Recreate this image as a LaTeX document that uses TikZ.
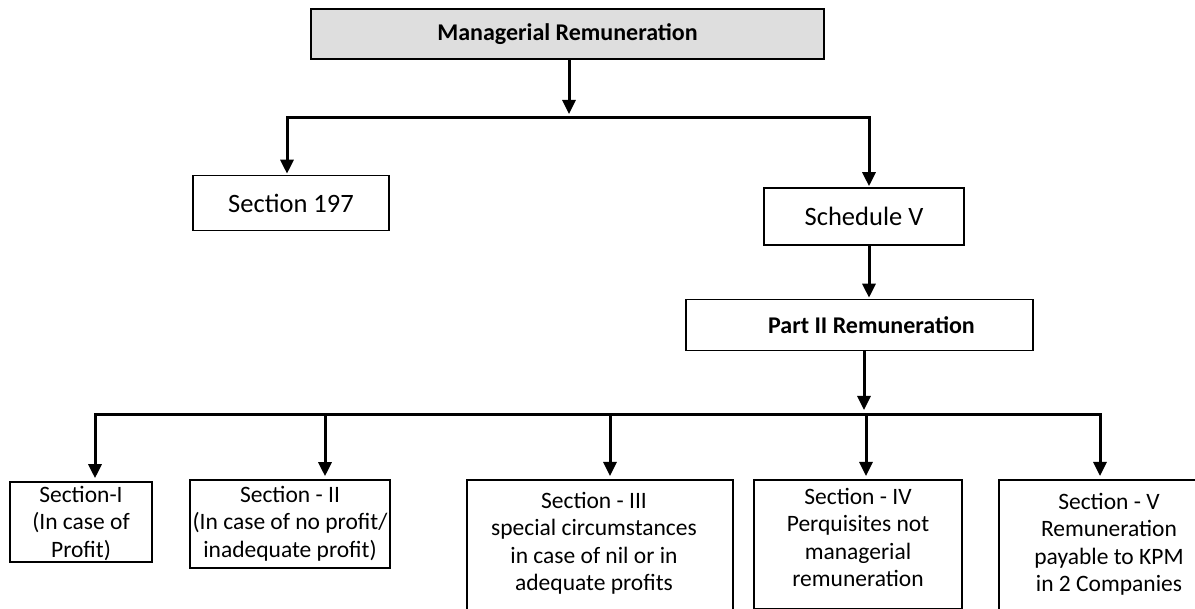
\documentclass[tikz,border=0pt]{standalone}
\usepackage{fontspec}
\setmainfont{Carlito}
\usetikzlibrary{arrows.meta,calc}
\tikzset{
  box/.style={draw=black, line width=1.6pt, rectangle, inner sep=0pt, align=center},
  conn/.style={line width=3pt, line cap=rect},
  arr/.style={line width=3pt, -{Triangle[length=14pt,width=13pt]}},
  big/.style={font=\fontsize{26.5}{32}\selectfont},
  bold/.style={font=\fontsize{24}{29}\selectfont\bfseries},
  small/.style={font=\fontsize{23.5}{27.4}\selectfont, align=center, inner sep=0pt},
}
\begin{document}
\begin{tikzpicture}[x=1pt,y=-1pt]
\useasboundingbox (0,0) rectangle (1195,609);
\clip (0,0) rectangle (1195,609);
% top
\node[box, bold, fill=black!13, minimum width=513, minimum height=50] (top) at (567.5,34) {Managerial Remuneration};
\coordinate (j1) at (569,118);
\coordinate (jl) at (287,118);
\coordinate (jr) at (869,118);
\node[box, big, minimum width=196, minimum height=55] (s197) at (291,203) {Section 197};
\node[box, big, minimum width=200, minimum height=57] (sch) at (864,216.5) {Schedule V};
\node[box, bold, minimum width=347, minimum height=51] (part) at (859.5,325) {\hspace*{24pt}Part II Remuneration};
\coordinate (j2) at (864,415);
\coordinate (ja) at (95,415);
\coordinate (jb) at (325,415);
\coordinate (jc) at (610,415);
\coordinate (jd) at (866,415);
\coordinate (je) at (1100,415);
% bottom boxes
\node[box, minimum width=142, minimum height=80] (b1) at (81,522) {};
\node[small, anchor=north] (t1) at (81,486) {Section-I\\(In case of\\Profit)};
\node[box, minimum width=200, minimum height=88] (b2) at (290,524) {};
\node[small, anchor=north] (t2) at (290,486) {Section - II\\(In case of no profit/\\inadequate profit)};
\node[box, minimum width=266, minimum height=150, anchor=north] (b3) at (600,479) {};
\node[small, anchor=north] (t3) at (594,492) {Section - III\\special circumstances\\in case of nil or in\\adequate profits};
\node[box, minimum width=208, minimum height=129, anchor=north] (b4) at (858,479) {};
\node[small, anchor=north] (t4) at (858,488) {Section - IV\\Perquisites not\\managerial\\remuneration};
\node[box, minimum width=240, minimum height=150, anchor=north] (b5) at (1119,479) {};
\node[small, anchor=north] (t5) at (1109,493) {Section - V\\Remuneration\\payable to KPM\\in 2 Companies};
% connectors
\draw[arr] (top.south -| j1) -- ([yshift=4pt]j1);
\draw[conn] (jl) -- (jr);
\draw[arr] (jl) -- ([yshift=1pt]s197.north -| jl);
\draw[arr] (jr) -- ([yshift=1pt]sch.north -| jr);
\draw[arr] (sch.south -| jr) -- ([yshift=1pt]part.north -| jr);
\draw[arr] (part.south -| j2) -- ([yshift=5pt]j2);
\draw[conn] (ja) -- (je);
\draw[arr] (ja) -- ([yshift=3pt]b1.north -| ja);
\draw[arr] (jb) -- ([yshift=3pt]b2.north -| jb);
\draw[arr] (jc) -- ([yshift=3pt]b3.north -| jc);
\draw[arr] (jd) -- ([yshift=3pt]b4.north -| jd);
\draw[arr] (je) -- ([yshift=3pt]b5.north -| je);
\end{tikzpicture}
\end{document}
